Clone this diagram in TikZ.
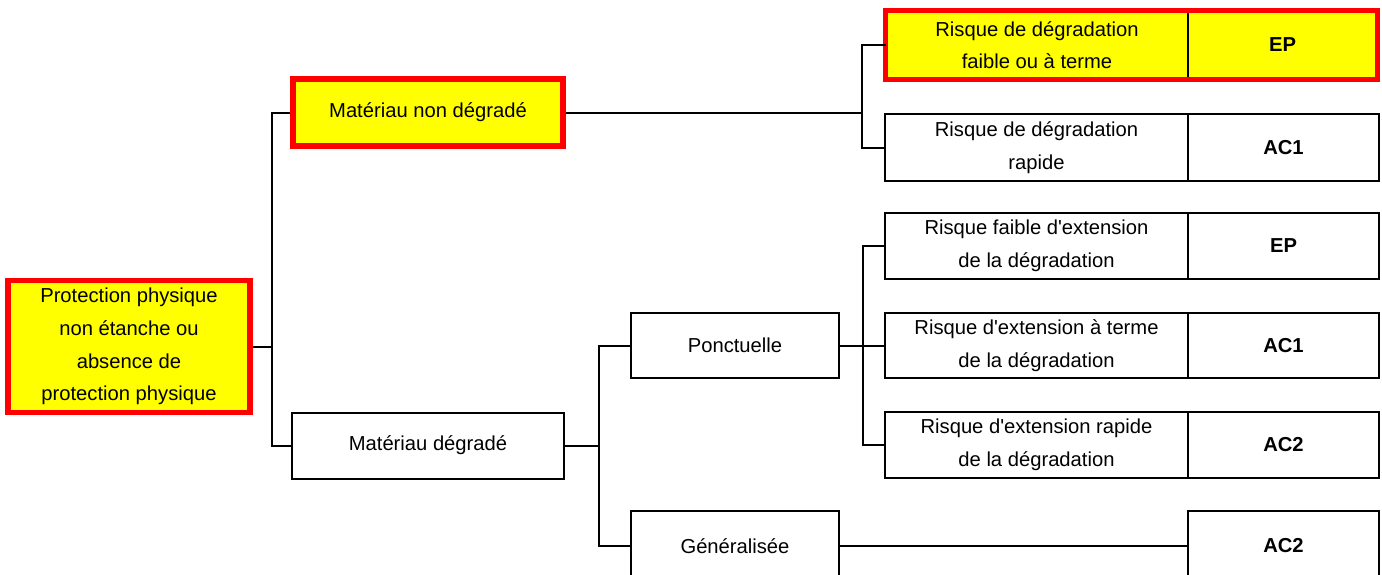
\documentclass[tikz,border=0pt]{standalone}
\usepackage{fontspec}
\setmainfont{Liberation Sans}
\definecolor{hiyellow}{RGB}{255,255,0}
\definecolor{hired}{RGB}{255,0,0}
\newcommand{\apos}{\textquotesingle}
\tikzset{
  base/.style={rectangle, inner sep=0pt, align=center, font=\fontsize{10.1}{16.3}\selectfont},
  plainbox/.style={base, draw=black, line width=1pt},
  hibox/.style={base, draw=hired, fill=hiyellow, line width=2.8pt},
  cellfill/.style={base, fill=hiyellow},
  codebox/.style={plainbox, font=\fontsize{10.1}{16.3}\selectfont\bfseries},
  codefill/.style={cellfill, font=\fontsize{10.1}{16.3}\selectfont\bfseries},
  conn/.style={line width=1pt, black},
}
\begin{document}
\begin{tikzpicture}[x=0.5pt, y=-0.5pt]
\useasboundingbox (0,0) rectangle (1382,574);
\clip (0,0) rectangle (1382,574);
\fill[white] (0,0) rectangle (1382,574);

% level 0
\node[hibox, minimum width=121pt, minimum height=66pt] (root) at (129,346.5)
  {Protection physique\\non étanche ou\\absence de\\protection physique};

% level 1
\node[hibox, minimum width=135pt, minimum height=33.5pt] (mnd) at (428,112.5) {Matériau non dégradé};
\node[plainbox, minimum width=136pt, minimum height=33pt] (md) at (428,445.5) {Matériau dégradé};

% level 2
\node[plainbox, minimum width=104pt, minimum height=32.5pt] (ponc) at (735,345.5) {Ponctuelle};
\node[plainbox, minimum width=104pt, minimum height=35pt] (gen) at (735,546) {Généralisée};

% right column: highlighted row
\node[cellfill, minimum width=151pt, minimum height=34pt] (r1) at (1037,45) {Risque de dégradation\\faible ou à terme};
\node[codefill, minimum width=94.5pt, minimum height=34pt] (c1) at (1282.5,45) {EP};
\draw[black, line width=1pt] (r1.north east) -- (r1.south east);
\draw[hired, line width=2.8pt] (r1.north west) rectangle (c1.south east);

% right column: plain rows
\node[plainbox, minimum width=151.5pt, minimum height=33.5pt] (r2) at (1036.5,147.5) {Risque de dégradation\\rapide};
\node[codebox, minimum width=95.5pt, minimum height=33.5pt] (c2) at (1283.5,147.5) {AC1};

\node[plainbox, minimum width=151.5pt, minimum height=33pt] (r3) at (1036.5,246) {Risque faible d\apos extension\\de la dégradation};
\node[codebox, minimum width=95.5pt, minimum height=33pt] (c3) at (1283.5,246) {EP};

\node[plainbox, minimum width=151.5pt, minimum height=32.5pt] (r4) at (1036.5,345.5) {Risque d\apos extension à terme\\de la dégradation};
\node[codebox, minimum width=95.5pt, minimum height=32.5pt] (c4) at (1283.5,345.5) {AC1};

\node[plainbox, minimum width=151.5pt, minimum height=33pt] (r5) at (1036.5,445) {Risque d\apos extension rapide\\de la dégradation};
\node[codebox, minimum width=95.5pt, minimum height=33pt] (c5) at (1283.5,445) {AC2};

\node[codebox, minimum width=95.5pt, minimum height=35pt] (c6) at (1283.5,546) {AC2};

% bus coordinates
\coordinate (b0) at (272,0);
\coordinate (b1) at (599,0);
\coordinate (b2) at (862,0);
\coordinate (b3) at (863,0);

% connectors
\draw[conn] (root.east) -- (root.east -| b0);
\draw[conn] (mnd.west) -| (b0 |- md.west) -- (md.west);

\draw[conn] (md.east) -- (md.east -| b1);
\draw[conn] (ponc.west) -| (b1 |- gen.west) -- (gen.west);

\draw[conn] (mnd.east) -- (mnd.east -| b2);
\draw[conn] (r1.west) -| (b2 |- r2.west) -- (r2.west);

\draw[conn] (ponc.east) -- (r4.west);
\draw[conn] (r3.west) -| (b3 |- r5.west) -- (r5.west);

\draw[conn] (gen.east) -- (c6.west);
\end{tikzpicture}
\end{document}
